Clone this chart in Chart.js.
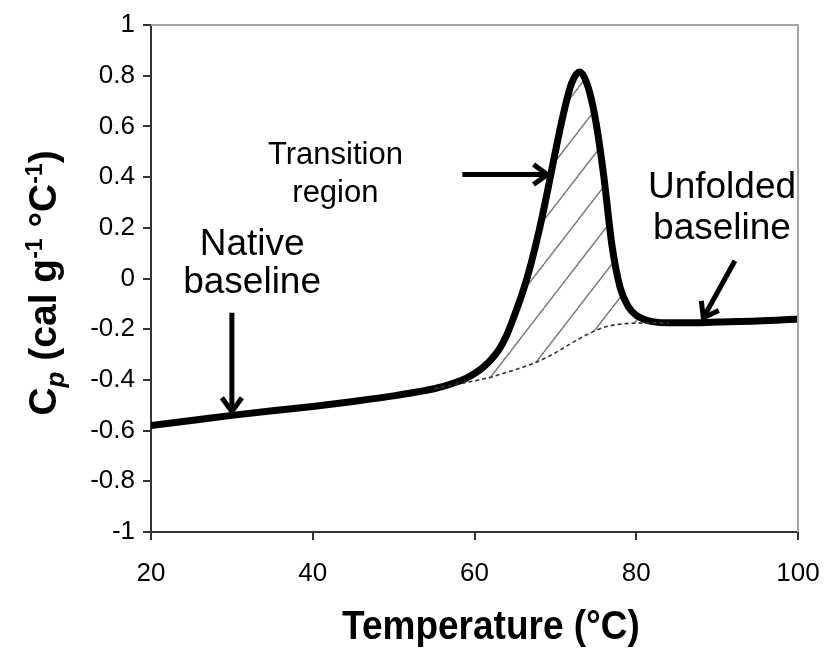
<!DOCTYPE html>
<html>
<head>
<meta charset="utf-8">
<script src="https://cdn.jsdelivr.net/npm/chart.js@4/dist/chart.umd.min.js"></script>
<style>
  html, body { margin: 0; padding: 0; background: #fff; }
  #wrap { width: 827px; height: 652px; }
</style>
</head>
<body>
<div id="wrap"><canvas id="c" width="827" height="652"></canvas></div>
<script>
// ---- data ----
const temperatures = [20, 25, 30, 35, 40, 45, 50, 53, 55, 57, 59, 60, 61, 62, 63, 64, 65, 66, 67, 68, 69, 70, 71, 72, 73, 74, 75, 76, 77, 78, 79, 80, 81, 82, 84, 86, 90, 95, 100];
const cpMeasured = [-0.58, -0.56, -0.54, -0.522, -0.505, -0.485, -0.463, -0.447, -0.435, -0.417, -0.393, -0.375, -0.352, -0.322, -0.282, -0.222, -0.14, -0.05, 0.06, 0.19, 0.34, 0.5, 0.65, 0.77, 0.815, 0.76, 0.62, 0.40, 0.13, -0.035, -0.11, -0.145, -0.162, -0.17, -0.175, -0.175, -0.172, -0.168, -0.16];

const baselineTemperatures = [55, 57, 59, 60, 61, 62, 63, 64, 65, 66, 67, 68, 69, 70, 71, 72, 73, 74, 75, 76, 77, 78, 79, 80, 81, 82, 84];
const cpBaseline = [-0.435, -0.422, -0.41, -0.404, -0.397, -0.39, -0.38, -0.37, -0.36, -0.35, -0.338, -0.325, -0.31, -0.293, -0.274, -0.255, -0.237, -0.22, -0.205, -0.193, -0.185, -0.18, -0.177, -0.176, -0.176, -0.175, -0.175];

const xTickValues = [20, 40, 60, 80, 100];
const xTickLabels = ['20', '40', '60', '80', '100'];
const yTickValues = [-1, -0.8, -0.6, -0.4, -0.2, 0, 0.2, 0.4, 0.6, 0.8, 1];
const yTickLabels = ['-1', '-0.8', '-0.6', '-0.4', '-0.2', '0', '0.2', '0.4', '0.6', '0.8', '1'];

const xTitle = 'Temperature (°C)';
const annotationTexts = [
  { lines: ['Native', 'baseline'], at: [32.5, 0.132], size: 37, gap: 38 },
  { lines: ['Transition', 'region'], at: [42.8, 0.487], size: 31, gap: 38 },
  { lines: ['Unfolded', 'baseline'], at: [90.6, 0.357], size: 37, gap: 41 }
];
const annotationArrows = [
  { from: [30, -0.135], to: [30, -0.525] },
  { from: [58.5, 0.41], to: [69.0, 0.41] },
  { from: [92.2, 0.07], to: [88.3, -0.155] }
];

// ---- styles ----
const FONT = "Arial, 'Liberation Sans', sans-serif";

function makeHatch() {
  const w = 34, h = 44;
  const t = document.createElement('canvas');
  t.width = w; t.height = h;
  const g = t.getContext('2d');
  g.strokeStyle = '#7a7a7a';
  g.lineWidth = 1.4;
  for (const dx of [-w, 0, w]) {
    g.beginPath();
    g.moveTo(dx, h);
    g.lineTo(dx + w, 0);
    g.stroke();
  }
  return g.createPattern(t, 'repeat');
}

const toXY = (xs, ys) => xs.map((x, i) => ({ x: x, y: ys[i] }));

const annotPlugin = {
  id: 'annot',
  afterDraw(chart) {
    const { ctx, chartArea: a, scales: { x, y } } = chart;
    ctx.save();
    // top & right frame
    ctx.strokeStyle = '#a6a6a6';
    ctx.lineWidth = 2;
    ctx.beginPath();
    ctx.moveTo(a.left, a.top);
    ctx.lineTo(a.right, a.top);
    ctx.lineTo(a.right, a.bottom);
    ctx.stroke();

    // texts
    ctx.fillStyle = '#000';
    ctx.textAlign = 'center';
    ctx.textBaseline = 'middle';
    annotationTexts.forEach(t => {
      ctx.font = t.size + 'px ' + FONT;
      const px = x.getPixelForValue(t.at[0]);
      const py = y.getPixelForValue(t.at[1]);
      t.lines.forEach((ln, i) => ctx.fillText(ln, px, py + i * t.gap));
    });

    // arrows
    ctx.strokeStyle = '#000';
    ctx.lineWidth = 5;
    ctx.lineCap = 'butt';
    ctx.lineJoin = 'miter';
    annotationArrows.forEach(ar => {
      const x0 = x.getPixelForValue(ar.from[0]), y0 = y.getPixelForValue(ar.from[1]);
      const x1 = x.getPixelForValue(ar.to[0]), y1 = y.getPixelForValue(ar.to[1]);
      const ang = Math.atan2(y1 - y0, x1 - x0);
      ctx.beginPath();
      ctx.moveTo(x0, y0);
      ctx.lineTo(x1 - 2 * Math.cos(ang), y1 - 2 * Math.sin(ang));
      ctx.stroke();
      const L = 17, sp = Math.PI / 5;
      ctx.beginPath();
      ctx.moveTo(x1 - L * Math.cos(ang - sp), y1 - L * Math.sin(ang - sp));
      ctx.lineTo(x1, y1);
      ctx.lineTo(x1 - L * Math.cos(ang + sp), y1 - L * Math.sin(ang + sp));
      ctx.stroke();
    });

    // x axis title (bold, slightly condensed)
    ctx.save();
    ctx.font = 'bold 40px ' + FONT;
    ctx.textAlign = 'center';
    ctx.textBaseline = 'middle';
    ctx.translate(491, 628);
    ctx.scale(0.925, 1);
    ctx.fillText(xTitle, 0, 0);
    ctx.restore();

    // y axis title with sub/superscripts
    const parts = [
      { t: 'C', f: 'bold 39px ' + FONT, dy: 0 },
      { t: 'p', f: 'italic bold 26px ' + FONT, dy: 8 },
      { t: ' (cal g', f: 'bold 39px ' + FONT, dy: 0 },
      { t: '-1', f: 'bold 23px ' + FONT, dy: -14 },
      { t: ' °C', f: 'bold 39px ' + FONT, dy: 0 },
      { t: '-1', f: 'bold 23px ' + FONT, dy: -14 },
      { t: ')', f: 'bold 39px ' + FONT, dy: 0 }
    ];
    let total = 0;
    parts.forEach(p => { ctx.font = p.f; p.w = ctx.measureText(p.t).width; total += p.w; });
    ctx.translate(43, 283);
    ctx.rotate(-Math.PI / 2);
    ctx.textAlign = 'left';
    ctx.textBaseline = 'alphabetic';
    let cx = -total / 2;
    parts.forEach(p => {
      ctx.font = p.f;
      ctx.fillText(p.t, cx, 13 + p.dy);
      cx += p.w;
    });
    ctx.restore();
  }
};

const labelFor = (vals, labels) => (v) => {
  const i = vals.findIndex(t => Math.abs(t - v) < 1e-6);
  return i >= 0 ? labels[i] : '';
};

new Chart(document.getElementById('c'), {
  type: 'line',
  data: {
    datasets: [
      {
        label: 'Baseline',
        data: toXY(baselineTemperatures, cpBaseline),
        borderColor: '#333',
        borderWidth: 1.6,
        borderDash: [4, 3],
        pointRadius: 0,
        cubicInterpolationMode: 'monotone',
        fill: false
      },
      {
        label: 'Cp',
        data: toXY(temperatures, cpMeasured),
        borderColor: '#000',
        borderWidth: 7,
        pointRadius: 0,
        cubicInterpolationMode: 'monotone',
        fill: { target: 0, above: makeHatch(), below: 'rgba(0,0,0,0)' }
      }
    ]
  },
  options: {
    responsive: false,
    animation: false,
    layout: { autoPadding: false, padding: { top: 25, right: 29, left: 0, bottom: 0 } },
    plugins: {
      legend: { display: false },
      tooltip: { enabled: false },
      filler: { drawTime: 'beforeDatasetsDraw' }
    },
    scales: {
      x: {
        type: 'linear',
        min: 20, max: 100,
        afterFit: s => { s.height = 120; s.paddingLeft = 0; s.paddingRight = 0; },
        afterBuildTicks: s => { s.ticks = xTickValues.map(v => ({ value: v })); },
        border: { display: true, color: '#333', width: 2 },
        grid: { drawOnChartArea: false, drawTicks: true, tickLength: 8, color: '#333', lineWidth: 2 },
        ticks: {
          color: '#000',
          font: { family: FONT, size: 26 },
          padding: 18,
          maxRotation: 0,
          callback: labelFor(xTickValues, xTickLabels)
        },
        title: { display: false }
      },
      y: {
        min: -1, max: 1,
        afterFit: s => { s.width = 151; s.paddingTop = 0; s.paddingBottom = 0; },
        afterBuildTicks: s => { s.ticks = yTickValues.map(v => ({ value: v })); },
        border: { display: true, color: '#333', width: 2 },
        grid: { drawOnChartArea: false, drawTicks: true, tickLength: 8, color: '#333', lineWidth: 2 },
        ticks: {
          color: '#000',
          font: { family: FONT, size: 26 },
          padding: 8,
          callback: labelFor(yTickValues, yTickLabels)
        }
      }
    }
  },
  plugins: [annotPlugin]
});
</script>
</body>
</html>
